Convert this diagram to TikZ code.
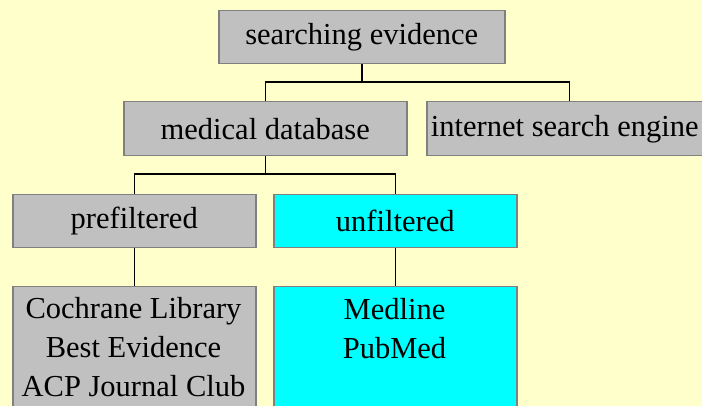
\documentclass[tikz,border=0pt]{standalone}
\usepackage{fontspec}
\setmainfont{Liberation Serif}
\definecolor{bg}{HTML}{FFFFCC}
\definecolor{boxgray}{HTML}{C0C0C0}
\definecolor{boxcyan}{HTML}{00FFFF}
\definecolor{edge}{HTML}{808080}
\begin{document}
\begin{tikzpicture}[x=1pt,y=-1pt,
  box/.style={draw=edge, line width=1.5pt, anchor=north west, inner sep=0pt,
    font=\fontsize{30.5}{39}\selectfont},
  graybox/.style={box, fill=boxgray},
  cyanbox/.style={box, fill=boxcyan},
  boxtext/.style={anchor=north, inner sep=0pt, align=center,
    font=\fontsize{30.5}{39}\selectfont},
  link/.style={draw=black, line width=1.5pt}]
\useasboundingbox (0,0) rectangle (702,406);
\clip (0,0) rectangle (702,406);
\fill[bg] (0,0) rectangle (702,406);

\node[graybox, minimum width=286pt, minimum height=53pt] (se) at (218,10) {searching evidence};
\node[graybox, minimum width=283pt, minimum height=54pt] (md) at (123,101) {medical database};
\node[graybox, minimum width=276pt, minimum height=54pt] (ise) at (426,101) {internet search engine};
\node[graybox, minimum width=243pt, minimum height=53pt] (pre) at (12,194) {prefiltered};
\node[cyanbox, minimum width=243pt, minimum height=53pt] (unf) at (273,194) {unfiltered};
\node[graybox, minimum width=243pt, minimum height=140pt] (coch) at (12,286) {};
\node[cyanbox, minimum width=243pt, minimum height=140pt] (med) at (273,286) {};
\node[boxtext] (cochtext) at (133.5,297) {Cochrane Library\\Best Evidence\\ACP Journal Club};
\node[boxtext] (medtext) at (394.5,298) {Medline\\PubMed};

\coordinate (j1) at (361,82);
\coordinate (j2) at (264,174);
\draw[link] (se.south) -- (se.south |- j1) -| ([xshift=4.5pt]ise.north);
\draw[link] (se.south |- j1) -| (md.north);
\draw[link] (md.south) -- (md.south |- j2) -| (pre.north);
\draw[link] (md.south |- j2) -| (unf.north);
\draw[link] (pre.south) -- (coch.north);
\draw[link] (unf.south) -- (med.north);
\end{tikzpicture}
\end{document}
